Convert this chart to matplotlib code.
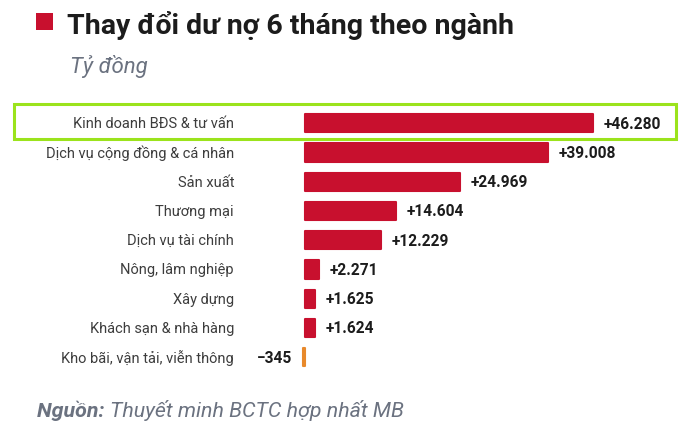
import matplotlib
matplotlib.use("Agg")
import matplotlib.pyplot as plt
from matplotlib.transforms import blended_transform_factory
from matplotlib.patches import Rectangle

categories = ["Kinh doanh BĐS & tư vấn", "Dịch vụ cộng đồng & cá nhân", "Sản xuất",
              "Thương mại", "Dịch vụ tài chính", "Nông, lâm nghiệp", "Xây dựng",
              "Khách sạn & nhà hàng", "Kho bãi, vận tải, viễn thông"]
values = [46280, 39008, 24969, 14604, 12229, 2271, 1625, 1624, -345]

title = "Thay đổi dư nợ 6 tháng theo ngành"
subtitle = "Tỷ đồng"
source_label = "Nguồn:"
source_text = "Thuyết minh BCTC hợp nhất MB"

RED = "#C8102E"
ORANGE = "#E8892B"
DARK = "#1c1c1c"
GRAY = "#6b7280"
LABEL = "#3d3d3d"

plt.rcParams['font.family'] = ['Roboto', 'DejaVu Sans']

W, H = 699, 431
fig = plt.figure(figsize=(W/100, H/100), dpi=100)

def fx(px): return px / W
def fy(py): return 1 - py / H

# axes: pixel x 250..680, y 108..374
ax = fig.add_axes([fx(250), fy(374), fx(680) - fx(250), fy(108) - fy(374)])
scale = 288 / 46280.0  # px per unit
x0px = 305
ax.set_xlim(-(x0px - 250) / scale, (680 - x0px) / scale)
step = 29.25
c0 = 124.2
ax.set_ylim((374 - c0) / step, -(c0 - 108) / step)
ax.axis('off')

ys = list(range(len(categories)))
colors = [RED if v >= 0 else ORANGE for v in values]
ax.barh(ys, values, height=0.62, color=colors, edgecolor=colors, linewidth=1.5,
        joinstyle='round')

tr = blended_transform_factory(fig.transFigure, ax.transData)
for y, cat, v in zip(ys, categories, values):
    ax.text(fx(234), y, cat, transform=tr, ha='right', va='center',
            fontsize=10.5, color=LABEL)
    s = f"{abs(v):,}".replace(",", ".")
    if v >= 0:
        ax.annotate("+" + s, (v, y), xytext=(7.5, 0), textcoords='offset points',
                    ha='left', va='center', fontsize=11.2, fontweight='bold', color=DARK)
    else:
        ax.annotate("\u2212" + s, (v, y), xytext=(-7.5, 0), textcoords='offset points',
                    ha='right', va='center', fontsize=11.2, fontweight='bold', color=DARK)

# highlight box
fig.add_artist(Rectangle((fx(14), fy(140)), fx(676) - fx(14), fy(105) - fy(140),
                         transform=fig.transFigure, fill=False,
                         edgecolor="#9BE31C", linewidth=2.2))

# title
fig.add_artist(Rectangle((fx(36), fy(31)), fx(17), fy(14) - fy(31),
                         transform=fig.transFigure, color=RED, linewidth=0))
fig.text(fx(67), fy(34), title, fontsize=20.5, fontweight='bold', color=DARK,
         ha='left', va='baseline')
fig.text(fx(70), fy(73), subtitle, fontsize=16, fontstyle='italic', color=GRAY,
         ha='left', va='baseline')

t = fig.text(fx(37), fy(417), source_label + " ", fontsize=15.4, fontstyle='italic',
             fontweight='bold', color=GRAY, ha='left', va='baseline')
fig.canvas.draw()
bb = t.get_window_extent()
fig.text(bb.x1 / W, fy(417), source_text, fontsize=15.4, fontstyle='italic',
         color=GRAY, ha='left', va='baseline')

fig.savefig("out.png", dpi=100)
